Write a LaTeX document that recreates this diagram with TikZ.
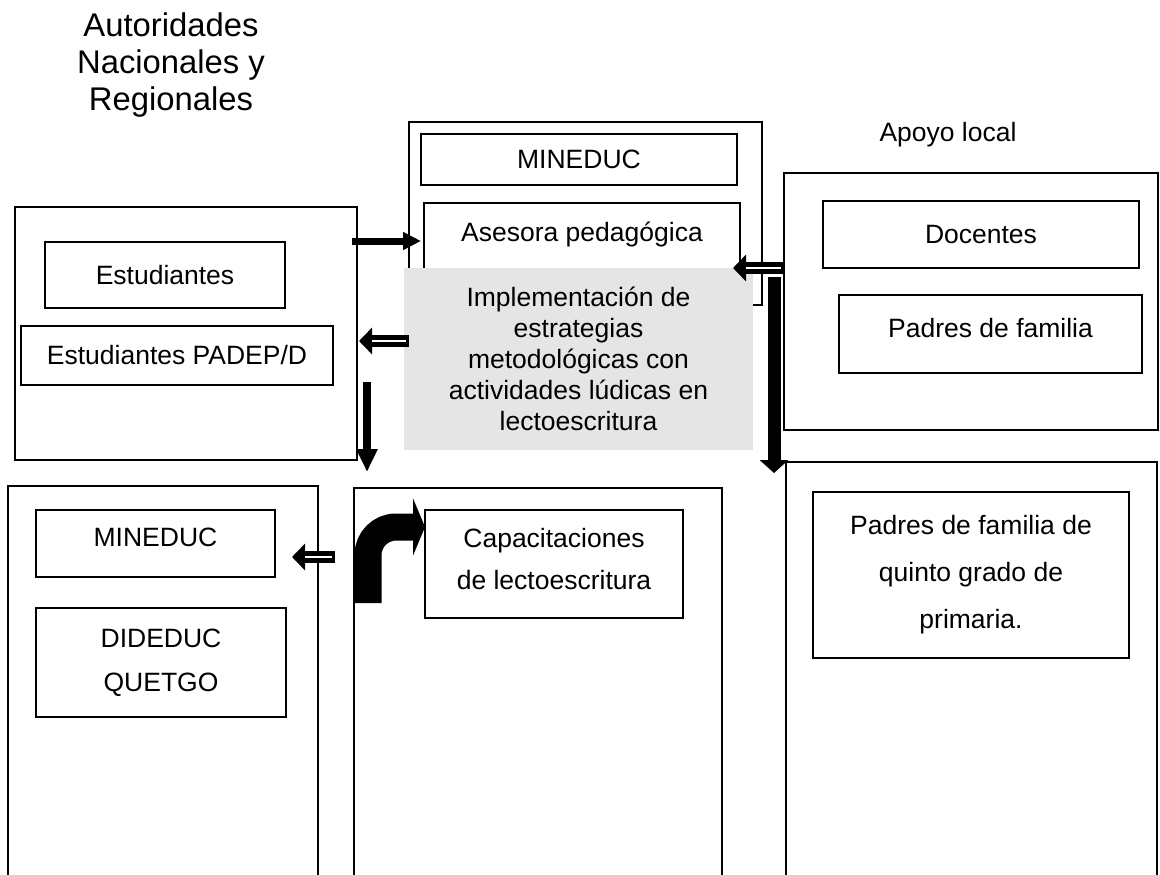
\documentclass[tikz,border=0pt]{standalone}
\usepackage{fontspec}
\setmainfont{Liberation Sans}
\usetikzlibrary{arrows.meta}
\tikzset{
  every node/.style={font=\fontsize{26.5}{31}\selectfont},
  outerbox/.style={draw, line width=1.5pt, outer sep=0pt, inner sep=0pt},
  innerbox/.style={draw, line width=1.5pt, outer sep=0pt, inner sep=0pt, align=center},
  solidarrow/.style={-{Triangle[length=18pt,width=17pt]}, line width=7pt},
  hollowarrow/.style={-{Triangle[length=13pt,width=26pt]}, line width=12pt,
    postaction={draw=white, line width=1.2pt, -, shorten >=13pt, shorten <=3pt}},
  downarrowA/.style={-{Triangle[length=23pt,width=20pt]}, line width=8pt},
  downarrowB/.style={-{Triangle[length=13pt,width=28pt]}, line width=13pt},
  bentarrow/.style={-{Triangle[length=12pt,width=57pt]}, line width=27pt, rounded corners=28pt},
}

\begin{document}
\begin{tikzpicture}[x=1pt,y=-1pt]
\useasboundingbox (0,0) rectangle (1160,875);
\clip (0,0) rectangle (1160,875);

\node[font=\fontsize{32.8}{37}\selectfont, align=center, inner sep=0pt] (title) at (171,65) {%
Autoridades\\Nacionales y\\Regionales};
\node[inner sep=0pt] (apoyo) at (948,135) {Apoyo local};

% top row
\node[outerbox, minimum width=342pt, minimum height=253pt] (leftTop) at (186,333.5) {};
\node[innerbox, minimum width=240pt, minimum height=66pt] (estud) at (165,275) {Estudiantes};
\node[innerbox, minimum width=312pt, minimum height=59pt] (padep) at (177,355.5) {Estudiantes PADEP/D};

\node[outerbox, minimum width=353pt, minimum height=183pt] (midTop) at (585.5,213.5) {};
\node[innerbox, minimum width=316pt, minimum height=51pt] (mineducA) at (579,159.5) {MINEDUC};
\node[innerbox, minimum width=316pt, minimum height=87pt,
  label={[anchor=base, inner sep=0pt, yshift=-38pt]north:Asesora pedagógica}] (asesora) at (582,246.5) {};
\node[fill=gray!20, minimum width=349pt, minimum height=182pt, align=center, inner sep=0pt] (grey) at (578.5,359) {%
Implementación de\\estrategias\\metodológicas con\\actividades lúdicas en\\lectoescritura};

\node[outerbox, minimum width=374pt, minimum height=257pt] (apoyoBox) at (971,301.5) {};
\node[innerbox, minimum width=316pt, minimum height=67pt] (docentes) at (981,234.5) {Docentes};
\node[innerbox, minimum width=303pt, minimum height=78pt, text depth=12pt] (padres) at (990.5,334) {Padres de familia};

% bottom row
\node[outerbox, minimum width=310pt, minimum height=414pt] (botLeft) at (163,693) {};
\node[innerbox, minimum width=239pt, minimum height=67pt, text depth=12pt] (mineducB) at (155.5,543.5) {MINEDUC};
\node[innerbox, minimum width=250pt, minimum height=109pt, font=\fontsize{26.5}{44}\selectfont] (dideduc) at (161,662.5) {DIDEDUC\\QUETGO};

\node[outerbox, minimum width=368pt, minimum height=412pt] (botMid) at (538,694) {};
\node[innerbox, minimum width=258pt, minimum height=108pt, text depth=10pt, font=\fontsize{26.5}{42}\selectfont] (capac) at (554,564) {%
Capacitaciones\\de lectoescritura};

\node[outerbox, minimum width=371pt, minimum height=438pt] (botRight) at (971.5,681) {};
\node[innerbox, minimum width=316pt, minimum height=166pt, font=\fontsize{26.5}{47}\selectfont] (padresQ) at (971,575) {%
Padres de familia de\\quinto grado de\\primaria.};

% arrows
\draw[solidarrow] ([xshift=-5pt,yshift=5.5pt]leftTop.east |- asesora.west) -- ([xshift=-3pt,yshift=5.5pt]asesora.west);
\draw[hollowarrow] ([xshift=5pt,yshift=18pt]grey.west) -- ([xshift=2pt,yshift=-7.5pt]leftTop.east);
\draw[downarrowA] ([xshift=10pt,yshift=78pt]leftTop.south east) -- ([xshift=10pt,yshift=-12pt]leftTop.south east);
\draw[hollowarrow] ([yshift=33.5pt]apoyoBox.west) -- ([xshift=-7pt,yshift=-21.5pt]asesora.east);
\draw[downarrowB] ([xshift=-10pt,yshift=24.5pt]apoyoBox.west) -- ([xshift=-12pt,yshift=-11pt]botRight.north west);
\draw[hollowarrow] ([xshift=60pt,yshift=-13.5pt]mineducB.east) -- ([xshift=17pt,yshift=-13.5pt]mineducB.east);
\coordinate (bendstart) at ([xshift=14pt,yshift=-115pt]botMid.north west);
\draw[bentarrow] (bendstart) |- ([yshift=37pt]capac.west);

\end{tikzpicture}
\end{document}
